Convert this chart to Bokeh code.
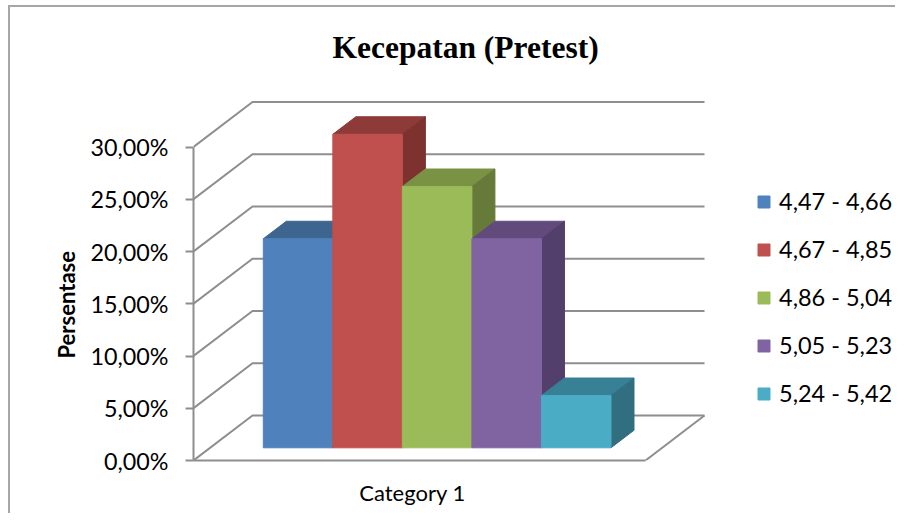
from bokeh.plotting import figure
from bokeh.models import Range1d, LinearAxis, FixedTicker, Legend, LegendItem, Title
from bokeh.embed import file_html
from bokeh.resources import INLINE

title = "Kecepatan (Pretest)"
y_title = "Persentase"
category = "Category 1"
series = ["4,47 - 4,66", "4,67 - 4,85", "4,86 - 5,04", "5,05 - 5,23", "5,24 - 5,42"]
values = [20, 30, 25, 20, 5]
front_colors = ["#4F81BD", "#C0504D", "#9BBB59", "#8064A2", "#4BACC6"]
top_colors = ["#3E6490", "#8E3A38", "#7A9244", "#624B7C", "#378095"]
side_colors = ["#35557C", "#7D3230", "#667A3A", "#533F6B", "#316E80"]
y_ticks = [0, 5, 10, 15, 20, 25, 30]
y_tick_labels = ["0,00%", "5,00%", "10,00%", "15,00%", "20,00%", "25,00%", "30,00%"]
GRID = "#8E8E8E"
BORDER = "#A6A6A6"
TXT = "#000000"

# layout (pixels)
FIG_W, FIG_H = 895, 513
FRAME_L, FRAME_R = 193, 0
FRAME_T, FRAME_B = 65, 53
PX_PER_PCT = 10.45
FLOOR_W = 452.0
DEPTH_X, DEPTH_Y = 59.0 / FLOOR_W, 45.0 / PX_PER_PCT   # full depth of floor, in data units
BAR_W = 1 / 6.5
GAP = 0.75 * BAR_W + 1 / FLOOR_W
BAR_D0, BAR_D1 = 0.282, 0.672
CATEGORY_X = 0.4845

frame_w = FIG_W - FRAME_L - FRAME_R
frame_h = FIG_H - FRAME_T - FRAME_B

p = figure(width=FIG_W, height=FIG_H, output_backend="svg", toolbar_location=None,
           x_range=Range1d(0, frame_w / FLOOR_W), y_range=Range1d(0, frame_h / PX_PER_PCT),
           x_axis_location=None, y_axis_location=None, tools="",
           min_border_left=FRAME_L, min_border_right=FRAME_R,
           min_border_top=FRAME_T, min_border_bottom=FRAME_B)
p.grid.visible = False
p.outline_line_color = None
p.border_fill_alpha = 0
p.background_fill_alpha = 0

# chart-area border: two thin stripes painted behind the transparent canvas
p.styles = {
    "background": (
        f"linear-gradient({BORDER},{BORDER}) 8px 5px / 100% 2px no-repeat, "
        f"linear-gradient({BORDER},{BORDER}) 8px 5px / 2px 100% no-repeat, white"
    )
}

def proj(x, y, d):
    return x + d * DEPTH_X, y + d * DEPTH_Y

# walls
for t in y_ticks:
    x1, y1 = proj(0, t, 1)
    p.line([0, x1, 1 + DEPTH_X], [t, y1, y1], line_color=GRID, line_width=2)
# floor right edge
x1, y1 = proj(1, 0, 1)
p.line([1, x1], [0, y1], line_color=GRID, line_width=2)

# bars
fronts = []
for i, v in enumerate(values):
    x0 = GAP + i * BAR_W
    x1 = x0 + BAR_W
    fa, fb = proj(x0, 0, BAR_D0), proj(x1, 0, BAR_D0)
    ba, bb = proj(x0, 0, BAR_D1), proj(x1, 0, BAR_D1)
    yf0, yb0 = fa[1], ba[1]
    p.patch([fa[0], fb[0], bb[0], ba[0]], [yf0 + v, yf0 + v, yb0 + v, yb0 + v],
            fill_color=top_colors[i], line_color=top_colors[i], line_width=1)
    p.patch([fb[0], bb[0], bb[0], fb[0]], [yf0, yb0, yb0 + v, yf0 + v],
            fill_color=side_colors[i], line_color=side_colors[i], line_width=1)
    r = p.quad(left=[fa[0]], right=[fb[0]], bottom=[yf0], top=[yf0 + v],
               fill_color=front_colors[i], line_color=front_colors[i], line_width=1)
    fronts.append(r)

# axes
ya = LinearAxis(ticker=FixedTicker(ticks=y_ticks),
                major_label_overrides=dict(zip(y_ticks, y_tick_labels)),
                bounds=(0, 30))
ya.axis_line_color = GRID
ya.axis_line_width = 2
ya.major_tick_line_color = GRID
ya.major_tick_line_width = 2
ya.major_tick_in = 0
ya.major_tick_out = 8
ya.minor_tick_line_color = None
ya.major_label_standoff = 17
ya.major_label_text_font = "Lato"
ya.major_label_text_font_size = "23.3px"
ya.major_label_text_color = TXT
p.add_layout(ya, "left")

yt = Title(text=y_title, align="left", offset=102, standoff=16,
           text_font="Lato", text_font_style="bold", text_font_size="22px", text_color=TXT)
p.add_layout(yt, "left")

xa = LinearAxis(ticker=FixedTicker(ticks=[CATEGORY_X]),
                major_label_overrides={CATEGORY_X: category}, bounds=(0, 1))
xa.axis_line_color = GRID
xa.axis_line_width = 2
xa.major_tick_line_color = None
xa.minor_tick_line_color = None
xa.major_tick_in = 0
xa.major_tick_out = 0
xa.major_label_standoff = 18
xa.major_label_text_font = "Lato"
xa.major_label_text_font_size = "22px"
xa.major_label_text_color = TXT
p.add_layout(xa, "below")

# title
p.title.text = title
p.title.text_font = "Liberation Serif"
p.title.text_font_style = "bold"
p.title.text_font_size = "31.5px"
p.title.text_color = TXT
p.title.align = "left"
p.title.offset = 139
p.title.standoff = 2

# legend
legend = Legend(items=[LegendItem(label=s, renderers=[r]) for s, r in zip(series, fronts)],
                location=(563, 53), orientation="vertical",
                glyph_width=15, glyph_height=15, label_height=20, label_width=110,
                spacing=20, padding=0, margin=0, label_standoff=8,
                border_line_color=None, background_fill_alpha=0,
                label_text_font="Lato", label_text_font_size="23.5px", label_text_color=TXT)
p.add_layout(legend)

open("out.html", "w").write(file_html(p, INLINE))
